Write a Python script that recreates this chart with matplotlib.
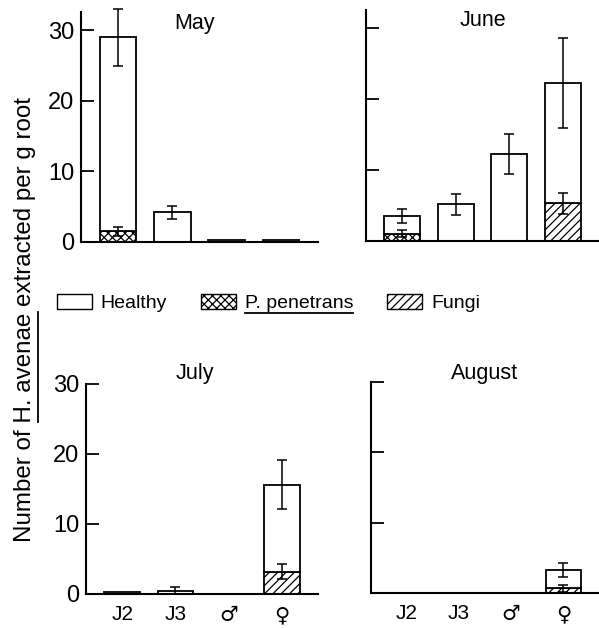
import numpy as np
import matplotlib.pyplot as plt
from matplotlib.patches import Patch
from matplotlib.lines import Line2D

plt.rcParams['font.family'] = ['Liberation Sans', 'DejaVu Sans']
plt.rcParams['hatch.linewidth'] = 0.9

# data (nematodes per g root)
stages = ['J2', 'J3', '\u2642', '\u2640']
months = ['May', 'June', 'July', 'August']

may_total = [29.0, 4.2, 0.3, 0.3]
may_total_err = [4.0, 0.9, 0, 0]
may_pen = [1.5, 0, 0, 0]
may_pen_err = [0.6, 0, 0, 0]
may_fungi = [0, 0, 0, 0]
may_fungi_err = [0, 0, 0, 0]

june_total = [3.5, 5.2, 12.3, 22.3]
june_total_err = [1.0, 1.5, 2.8, 6.3]
june_pen = [1.0, 0, 0, 0]
june_pen_err = [0.5, 0, 0, 0]
june_fungi = [0, 0, 0, 5.3]
june_fungi_err = [0, 0, 0, 1.5]

july_total = [0.3, 0.5, 0, 15.6]
july_total_err = [0, 0.5, 0, 3.5]
july_pen = [0, 0, 0, 0]
july_pen_err = [0, 0, 0, 0]
july_fungi = [0, 0, 0, 3.2]
july_fungi_err = [0, 0, 0, 1.1]

aug_total = [0, 0, 0, 3.3]
aug_total_err = [0, 0, 0, 1.0]
aug_pen = [0, 0, 0, 0]
aug_pen_err = [0, 0, 0, 0]
aug_fungi = [0, 0, 0, 0.7]
aug_fungi_err = [0, 0, 0, 0.5]

panels = [
    (may_total, may_total_err, may_pen, may_pen_err, may_fungi, may_fungi_err),
    (june_total, june_total_err, june_pen, june_pen_err, june_fungi, june_fungi_err),
    (july_total, july_total_err, july_pen, july_pen_err, july_fungi, july_fungi_err),
    (aug_total, aug_total_err, aug_pen, aug_pen_err, aug_fungi, aug_fungi_err),
]

W, H = 599, 628
fig = plt.figure(figsize=(W / 100, H / 100), dpi=100)

# axes boxes in pixels: left, right, bottom(y of zero), top
boxes = [(81, 318, 242, 12), (366, 599, 241, 10), (86, 318, 594, 384), (371, 599, 593, 382)]
ytops = [32.6, 32.6, 30, 30]
# month label position (axes x, pixel y of centre)
title_pos = [(0.48, 23), (0.50, 21), (0.47, 374), (0.50, 374)]

x = np.arange(4)
wid = 0.67
lw = 1.3
for i, (box, data) in enumerate(zip(boxes, panels)):
    l, r, b, t = box
    ax = fig.add_axes([l / W, 1 - b / H, (r - l) / W, (b - t) / H])
    tot, tot_e, pen, pen_e, fun, fun_e = [np.array(d, dtype=float) for d in data]
    infected = pen + fun
    healthy = tot - infected
    ax.bar(x, pen, wid, color='white', edgecolor='black', hatch='xxxx', linewidth=lw)
    ax.bar(x, fun, wid, bottom=pen, color='white', edgecolor='black', hatch='////', linewidth=lw)
    ax.bar(x, healthy, wid, bottom=infected, color='white', edgecolor='black', linewidth=lw)
    for vals, errs in [(tot, tot_e), (pen, pen_e), (pen + fun, fun_e)]:
        m = errs > 0
        eb = ax.errorbar(x[m], vals[m], yerr=errs[m], fmt='none', ecolor='black',
                         elinewidth=1.1, capsize=3.8, capthick=1.1)
        for art in eb.lines[1] + eb.lines[2]:
            art.set_clip_on(False)
    ax.set_xlim(-0.68, 3.68)
    ax.set_ylim(0, ytops[i])
    ax.set_yticks([0, 10, 20, 30])
    ax.spines['top'].set_visible(False)
    ax.spines['right'].set_visible(False)
    ax.spines['left'].set_linewidth(1.5)
    ax.spines['bottom'].set_linewidth(1.5)
    ax.tick_params(axis='y', direction='in', length=9, width=1.3, labelsize=17, pad=5)
    ax.tick_params(axis='x', length=0, labelsize=15, pad=8)
    if i % 2 == 1:
        ax.set_yticklabels([])
    if i < 2:
        ax.set_xticks([])
    else:
        ax.set_xticks(x)
        ax.set_xticklabels(stages)
        for lab in ax.get_xticklabels()[2:]:
            lab.set_fontfamily('DejaVu Sans')
            lab.set_fontsize(15)
    tx, ty = title_pos[i]
    ax.text(tx, (b - ty) / (b - t), months[i], transform=ax.transAxes,
            ha='center', va='center', fontsize=15.5)

# legend
handles = [Patch(facecolor='white', edgecolor='black', linewidth=1.0),
           Patch(facecolor='white', edgecolor='black', hatch='xxxx', linewidth=1.0),
           Patch(facecolor='white', edgecolor='black', hatch='////', linewidth=1.0)]
leg = fig.legend(handles, ['Healthy', 'P. penetrans', 'Fungi'], loc='center left',
                 bbox_to_anchor=(57 / W, 1 - 303 / H), ncol=3, frameon=False, fontsize=14,
                 handlelength=1.8, handleheight=0.8, handletextpad=0.45, columnspacing=1.75,
                 borderpad=0, borderaxespad=0)

ylab = 'Number of H. avenae extracted per g root'
lab = fig.text(25 / W, 1 - 319 / H, ylab, rotation=90, ha='center', va='center', fontsize=17.4)

fig.canvas.draw()
rend = fig.canvas.get_renderer()


def text_w(s, size):
    tmp = fig.text(0, 0, s, fontsize=size)
    w = tmp.get_window_extent(rend).width
    tmp.remove()
    return w


# underline "H. avenae" in the y label
bb = lab.get_window_extent(rend)
start = text_w('Number of H', 17.4) - text_w('H', 17.4)
end = text_w('Number of H. avenae', 17.4)
lx = (bb.x1 + 2) / W
fig.add_artist(Line2D([lx, lx], [(bb.y0 + start) / H, (bb.y0 + end) / H],
                      transform=fig.transFigure, color='black', linewidth=1.3))

# underline "P. penetrans" in the legend
tb = leg.get_texts()[1].get_window_extent(rend)
fig.add_artist(Line2D([tb.x0 / W, tb.x1 / W], [(tb.y0 - 1) / H, (tb.y0 - 1) / H],
                      transform=fig.transFigure, color='black', linewidth=1.3))

fig.savefig('out.png', dpi=100)
